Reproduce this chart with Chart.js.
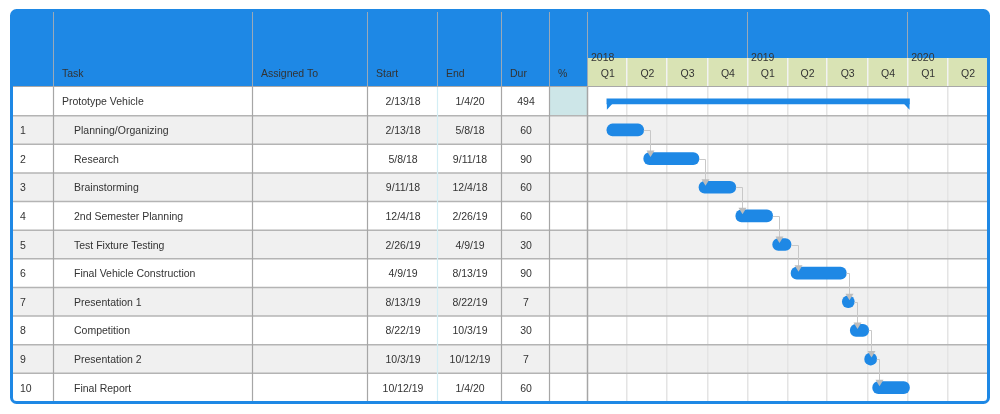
<!DOCTYPE html>
<html>
<head>
<meta charset="utf-8">
<script src="https://cdn.jsdelivr.net/npm/chart.js@4.4.1/dist/chart.umd.min.js"></script>
<style>
html,body{margin:0;padding:0;background:#fff;}
canvas{display:block;}
</style>
</head>
<body>
<canvas id="c" width="1000" height="414"></canvas>
<script>
// ---- data ----
const rowIds = ['', '1', '2', '3', '4', '5', '6', '7', '8', '9', '10'];
const taskNames = ['Prototype Vehicle', 'Planning/Organizing', 'Research', 'Brainstorming', '2nd Semester Planning', 'Test Fixture Testing', 'Final Vehicle Construction', 'Presentation 1', 'Competition', 'Presentation 2', 'Final Report'];
const assignedTo = ['', '', '', '', '', '', '', '', '', '', ''];
const startDates = ['2/13/18', '2/13/18', '5/8/18', '9/11/18', '12/4/18', '2/26/19', '4/9/19', '8/13/19', '8/22/19', '10/3/19', '10/12/19'];
const endDates = ['1/4/20', '5/8/18', '9/11/18', '12/4/18', '2/26/19', '4/9/19', '8/13/19', '8/22/19', '10/3/19', '10/12/19', '1/4/20'];
const durations = ['494', '60', '90', '60', '60', '30', '90', '7', '30', '7', '60'];
const percents = ['', '', '', '', '', '', '', '', '', '', ''];
const isSummary = [true, false, false, false, false, false, false, false, false, false, false];
const yearLabels = ['2018', '2019', '2020'];
const quarterLabels = ['Q1', 'Q2', 'Q3', 'Q4', 'Q1', 'Q2', 'Q3', 'Q4', 'Q1', 'Q2'];
const timelineStart = '1/1/18';
const timelineEnd = '7/1/20';

// ---- helpers ----
function dayOf(s) {
  const [m, d, y] = s.split('/').map(Number);
  const t0 = timelineStart.split('/').map(Number);
  return (Date.UTC(2000 + y, m - 1, d) - Date.UTC(2000 + t0[2], t0[0] - 1, t0[1])) / 86400000;
}
const quarterStartDays = [];
for (let i = 0; i <= quarterLabels.length; i++) {
  const y = 18 + Math.floor(i / 4), q = i % 4;
  quarterStartDays.push(dayOf((q * 3 + 1) + '/1/' + y));
}
const taskRanges = startDates.map((s, i) => isSummary[i] ? null : [dayOf(s), dayOf(endDates[i])]);
const summaryRanges = startDates.map((s, i) => isSummary[i] ? [dayOf(s), dayOf(endDates[i])] : null);

const FONT = '10.5px "Liberation Sans", Arial, sans-serif';
const BLUE = '#1e88e5';
const colEdges = [12, 54, 253, 368, 438, 502, 550, 588];
const headerTop = 12, quarterTop = 58;

const tablePlugin = {
  id: 'table',
  beforeDatasetsDraw(chart) {
    // widen very short bars into circles (min 12px) around their centre
    const meta = chart.getDatasetMeta(0);
    meta.data.forEach((el, i) => {
      if (!taskRanges[i]) return;
      const l = Math.min(el.x, el.base), r = Math.max(el.x, el.base);
      if (r - l < 12) {
        const c = (l + r) / 2;
        el.base = c - 6; el.x = c + 6;
      }
    });
  },
  beforeDraw(chart) {
    const ctx = chart.ctx, ca = chart.chartArea;
    const xs = chart.scales.x, ys = chart.scales.y;
    const n = rowIds.length;
    const rowH = (ca.bottom - ca.top) / n;
    const right = ca.right;
    ctx.save();
    ctx.fillStyle = '#fff';
    ctx.fillRect(0, 0, chart.width, chart.height);
    // row backgrounds
    for (let i = 0; i < n; i++) {
      const cy = ys.getPixelForValue(i);
      const top = cy - rowH / 2;
      ctx.fillStyle = i % 2 === 1 ? '#f0f0f0' : '#ffffff';
      ctx.fillRect(colEdges[0], top, right - colEdges[0], rowH);
      if (isSummary[i]) {
        ctx.fillStyle = '#cde6e8';
        ctx.fillRect(colEdges[6], top, colEdges[7] - colEdges[6], rowH);
      }
    }
    // gantt quarter grid lines (body)
    ctx.strokeStyle = '#e4e4e4';
    ctx.lineWidth = 1.5;
    quarterStartDays.slice(1, -1).forEach(d => {
      const x = Math.round(xs.getPixelForValue(d)) - 0.25;
      ctx.beginPath(); ctx.moveTo(x, ca.top); ctx.lineTo(x, ca.bottom); ctx.stroke();
    });
    // row separators
    ctx.strokeStyle = '#b4b4b4';
    ctx.lineWidth = 1.5;
    for (let i = 1; i < n; i++) {
      const y = ys.getPixelForValue(i) - rowH / 2;
      ctx.beginPath(); ctx.moveTo(colEdges[0], y); ctx.lineTo(right, y); ctx.stroke();
    }
    // column lines (body)
    for (let c = 1; c < colEdges.length; c++) {
      const x = colEdges[c] - 0.5;
      ctx.strokeStyle = c === 4 ? '#d3eef5' : '#a6a6a6';
      ctx.lineWidth = c === 7 ? 1.5 : 1.2;
      ctx.beginPath(); ctx.moveTo(x, ca.top); ctx.lineTo(x, ca.bottom); ctx.stroke();
    }
    // header
    ctx.fillStyle = BLUE;
    ctx.fillRect(colEdges[0], headerTop, right - colEdges[0], ca.top - headerTop);
    ctx.fillStyle = '#d9e3b4';
    ctx.fillRect(colEdges[7] - 0.5, quarterTop, right - colEdges[7] + 0.5, ca.top - quarterTop);
    // header column lines
    ctx.strokeStyle = '#9aa9b8';
    ctx.lineWidth = 1;
    for (let c = 1; c < colEdges.length; c++) {
      const x = colEdges[c] - 0.5;
      ctx.beginPath(); ctx.moveTo(x, headerTop); ctx.lineTo(x, ca.top); ctx.stroke();
    }
    // year lines in header
    [0, 4, 8].forEach(q => {
      const x = Math.round(xs.getPixelForValue(quarterStartDays[q])) - 0.5;
      ctx.beginPath(); ctx.moveTo(x, headerTop); ctx.lineTo(x, quarterTop); ctx.stroke();
    });
    // quarter separators in green row
    ctx.strokeStyle = '#f2f2f2';
    ctx.lineWidth = 1.5;
    quarterStartDays.slice(1, -1).forEach(d => {
      const x = Math.round(xs.getPixelForValue(d)) - 0.25;
      ctx.beginPath(); ctx.moveTo(x, quarterTop); ctx.lineTo(x, ca.top); ctx.stroke();
    });
    // header bottom line
    ctx.strokeStyle = '#a8a8a8';
    ctx.lineWidth = 1;
    ctx.beginPath(); ctx.moveTo(colEdges[0], ca.top - 0.5); ctx.lineTo(right, ca.top - 0.5); ctx.stroke();

    // header texts
    ctx.font = FONT;
    ctx.fillStyle = '#333';
    ctx.textBaseline = 'alphabetic';
    ctx.textAlign = 'left';
    const heads = ['', 'Task', 'Assigned To', 'Start', 'End', 'Dur', '%'];
    heads.forEach((h, c) => { if (h) ctx.fillText(h, colEdges[c] + 8, 77); });
    // years
    yearLabels.forEach((y, k) => {
      ctx.fillText(y, xs.getPixelForValue(quarterStartDays[k * 4]) + 3, 61);
    });
    // quarters
    ctx.textAlign = 'center';
    quarterLabels.forEach((q, k) => {
      const x = (xs.getPixelForValue(quarterStartDays[k]) + xs.getPixelForValue(quarterStartDays[k + 1])) / 2;
      ctx.fillText(q, x, 77);
    });

    // body texts
    for (let i = 0; i < n; i++) {
      const cy = ys.getPixelForValue(i) + 4;
      ctx.textAlign = 'left';
      ctx.fillText(rowIds[i], colEdges[0] + 8, cy);
      ctx.fillText(taskNames[i], colEdges[1] + (isSummary[i] ? 8 : 20), cy);
      ctx.fillText(assignedTo[i], colEdges[2] + 8, cy);
      ctx.textAlign = 'center';
      ctx.fillText(startDates[i], (colEdges[3] + colEdges[4]) / 2, cy);
      ctx.fillText(endDates[i], (colEdges[4] + colEdges[5]) / 2, cy);
      ctx.fillText(durations[i], (colEdges[5] + colEdges[6]) / 2, cy);
      ctx.fillText(percents[i], (colEdges[6] + colEdges[7]) / 2, cy);
    }
    ctx.restore();
  },
  afterDatasetsDraw(chart) {
    const ctx = chart.ctx;
    ctx.save();
    // summary bracket ends
    const sm = chart.getDatasetMeta(1);
    sm.data.forEach((el, i) => {
      if (!summaryRanges[i]) return;
      const l = Math.min(el.x, el.base), r = Math.max(el.x, el.base);
      const b = el.y + el.height / 2;
      ctx.fillStyle = BLUE;
      ctx.beginPath(); ctx.moveTo(l, b - 0.5); ctx.lineTo(l + 6, b - 0.5); ctx.lineTo(l, b + 6); ctx.closePath(); ctx.fill();
      ctx.beginPath(); ctx.moveTo(r, b - 0.5); ctx.lineTo(r - 6, b - 0.5); ctx.lineTo(r, b + 6); ctx.closePath(); ctx.fill();
    });
    // dependency arrows
    const tm = chart.getDatasetMeta(0);
    for (let i = 1; i < rowIds.length - 1; i++) {
      if (!taskRanges[i] || !taskRanges[i + 1]) continue;
      const p = tm.data[i], q = tm.data[i + 1];
      const pe = Math.max(p.x, p.base);
      const ql = Math.min(q.x, q.base);
      const ax = Math.round(ql + 6.5) + 0.5;
      const py = Math.round(p.y) + 0.5;
      ctx.strokeStyle = '#c8c8c8';
      ctx.lineWidth = 1;
      ctx.beginPath(); ctx.moveTo(pe, py); ctx.lineTo(ax, py); ctx.lineTo(ax, q.y - 7); ctx.stroke();
      ctx.fillStyle = '#bdbdbd';
      ctx.beginPath(); ctx.moveTo(ax - 4, q.y - 8); ctx.lineTo(ax + 4, q.y - 8); ctx.lineTo(ax, q.y - 1.5); ctx.closePath(); ctx.fill();
    }
    ctx.restore();
  },
  afterDraw(chart) {
    const ctx = chart.ctx;
    ctx.save();
    ctx.strokeStyle = BLUE;
    ctx.lineWidth = 3;
    ctx.beginPath();
    ctx.roundRect(11.5, 10.5, 977, 392, 5);
    ctx.stroke();
    ctx.restore();
  }
};

new Chart(document.getElementById('c'), {
  type: 'bar',
  data: {
    labels: taskNames,
    datasets: [
      { data: taskRanges, backgroundColor: BLUE, barThickness: 12, borderRadius: 6, borderSkipped: false, grouped: false },
      { data: summaryRanges, backgroundColor: BLUE, barThickness: 5, borderRadius: 0, borderSkipped: false, grouped: false }
    ]
  },
  options: {
    indexAxis: 'y',
    responsive: false,
    animation: false,
    devicePixelRatio: 1,
    layout: { padding: { left: 588, right: 12, top: 87, bottom: 12 } },
    plugins: { legend: { display: false }, tooltip: { enabled: false } },
    scales: {
      x: { type: 'linear', display: false, min: dayOf(timelineStart), max: dayOf(timelineEnd) },
      y: { type: 'category', display: false, offset: true }
    }
  },
  plugins: [tablePlugin]
});
</script>
</body>
</html>
